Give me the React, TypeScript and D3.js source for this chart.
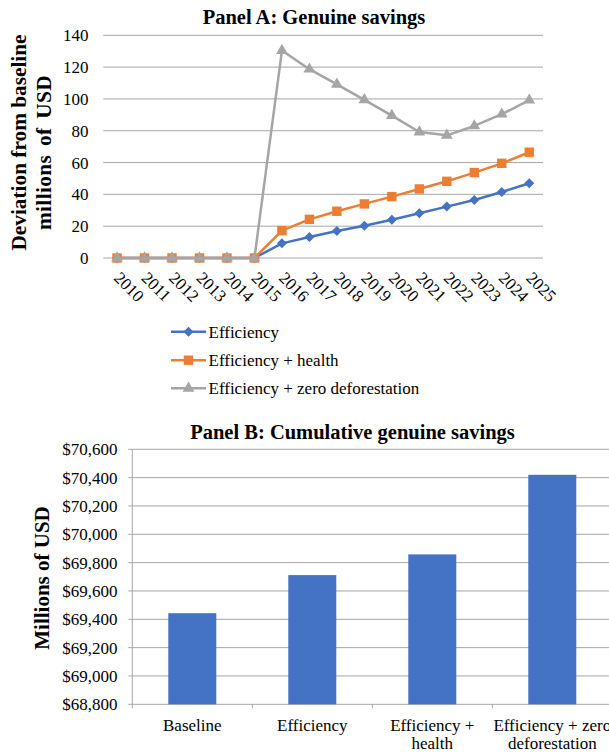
import React from "react";
import * as d3 from "d3";

const years = ["2010","2011","2012","2013","2014","2015","2016","2017","2018","2019","2020","2021","2022","2023","2024","2025"];
const efficiency = [0,0,0,0,0,0,9.2,13.2,17,20.3,24.1,28.1,32.3,36.5,41.5,47];
const effHealth = [0,0,0,0,0,0,17.2,24.3,29.4,34,38.6,43.4,48.2,53.7,59.5,66.5];
const effZeroDef = [0,0,0,0,0,0,130.4,118.7,109.2,99.4,89.5,79.2,77.1,83,90.4,99.2];
const seriesNames = ["Efficiency","Efficiency + health","Efficiency + zero deforestation"];
const yTicksA = [0,20,40,60,80,100,120,140];

const scenarios = ["Baseline","Efficiency","Efficiency + health","Efficiency + zero deforestation"];
const scenarioLabelLines = [["Baseline"],["Efficiency"],["Efficiency +","health"],["Efficiency + zero","deforestation"]];
const cumulative = [69443, 69712, 69858, 70420];
const yTicksB = [68800,69000,69200,69400,69600,69800,70000,70200,70400,70600];

const FONT = "'Times New Roman', 'Liberation Serif', Tinos, 'DejaVu Serif', serif";
const GRID = "#a6a6a6";
const COLORS = ["#4472C4", "#ED7D31", "#A5A5A5"];
const FS = 17;

function Marker({ kind, x, y, color }: { kind: number; x: number; y: number; color: string }) {
  if (kind === 0) {
    const s = 5;
    return <path d={`M${x},${y - s}L${x + s},${y}L${x},${y + s}L${x - s},${y}Z`} fill={color} />;
  }
  if (kind === 1) {
    const s = 4.7;
    return <rect x={x - s} y={y - s} width={2 * s} height={2 * s} fill={color} />;
  }
  const sym = d3.symbol().type(d3.symbolTriangle).size(60)();
  return <path d={sym as string} transform={`translate(${x},${y})`} fill={color} />;
}

export default function App() {
  const xA = d3.scaleBand<string>().domain(years).range([103.3, 543]);
  const yA = d3.scaleLinear().domain([0, 140]).range([258, 35.3]);
  const cx = (yr: string) => (xA(yr) as number) + xA.bandwidth() / 2;
  const allSeries = [efficiency, effHealth, effZeroDef];
  const line = d3.line<number>().x((_, i) => cx(years[i])).y((d) => yA(d));

  const xB = d3.scaleBand<string>().domain(scenarios).range([132.3, 612.3]);
  const yB = d3.scaleLinear().domain([68800, 70600]).range([704.3, 449.3]);
  const barW = xB.bandwidth() * 0.4;
  const fmt = d3.format(",");
  const ts = { fontFamily: FONT };

  return (
    <svg width={609} height={753} style={{ position: "absolute", left: 0, top: 0, background: "#fff", fontFamily: FONT }}>
      <rect width={609} height={753} fill="#fff" />
      <text style={ts} x={314} y={24} textAnchor="middle" fontWeight="bold" fontSize={20.5}>Panel A: Genuine savings</text>
      {yTicksA.map((t) => (
        <g key={t}>
          <line x1={103.3} x2={543} y1={yA(t)} y2={yA(t)} stroke={GRID} strokeWidth={1} />
          <text style={ts} x={88.5} y={yA(t)} dy="0.35em" textAnchor="end" fontSize={FS}>{t}</text>
        </g>
      ))}
      <text style={ts} transform={`translate(25.5,142.5) rotate(-90)`} textAnchor="middle" fontWeight="bold" fontSize={21.3}>Deviation from baseline</text>
      <text style={ts} transform={`translate(50.5,152.5) rotate(-90)`} textAnchor="middle" fontWeight="bold" fontSize={21.3} letterSpacing={0.4} wordSpacing={3}>millions of USD</text>
      {years.map((yr) => (
        <text style={ts} key={yr} transform={`translate(${cx(yr) - 4},279) rotate(45)`} fontSize={FS}>{yr}</text>
      ))}
      {allSeries.map((s, k) => (
        <g key={k}>
          <path d={line(s) as string} fill="none" stroke={COLORS[k]} strokeWidth={2.5} strokeLinejoin="round" />
          {s.map((v, i) => (
            <Marker key={i} kind={k} x={cx(years[i])} y={yA(v)} color={COLORS[k]} />
          ))}
        </g>
      ))}
      {seriesNames.map((n, k) => {
        const ly = [331.7, 360.2, 388.3][k];
        return (
          <g key={n}>
            <line x1={171} x2={206} y1={ly} y2={ly} stroke={COLORS[k]} strokeWidth={2.5} />
            <Marker kind={k} x={188.5} y={ly} color={COLORS[k]} />
            <text style={ts} x={208.5} y={ly} dy="0.35em" fontSize={FS}>{n}</text>
          </g>
        );
      })}

      <text style={ts} x={352.5} y={438.5} textAnchor="middle" fontWeight="bold" fontSize={20.5}>Panel B: Cumulative genuine savings</text>
      {yTicksB.map((t) => (
        <g key={t}>
          <line x1={132.3} x2={612} y1={yB(t)} y2={yB(t)} stroke={GRID} strokeWidth={1} />
          <line x1={128.3} x2={132.3} y1={yB(t)} y2={yB(t)} stroke={GRID} strokeWidth={1} />
          <text style={ts} x={117.5} y={yB(t)} dy="0.35em" textAnchor="end" fontSize={FS}>{"$" + fmt(t)}</text>
        </g>
      ))}
      <line x1={132.3} x2={132.3} y1={yB(70600)} y2={yB(68800)} stroke={GRID} strokeWidth={1} />
      {scenarios.map((s) => (
        <line key={s} x1={(xB(s) as number) + xB.bandwidth()} x2={(xB(s) as number) + xB.bandwidth()} y1={yB(68800)} y2={yB(68800) + 4} stroke={GRID} strokeWidth={1} />
      ))}
      <line x1={132.3} x2={132.3} y1={yB(68800)} y2={yB(68800) + 4} stroke={GRID} strokeWidth={1} />
      {scenarios.map((s, i) => {
        const c = (xB(s) as number) + xB.bandwidth() / 2;
        return (
          <rect key={s} x={c - barW / 2} y={yB(cumulative[i])} width={barW} height={yB(68800) - yB(cumulative[i])} fill="#4472C4" />
        );
      })}
      {scenarios.map((s, i) => {
        const c = (xB(s) as number) + xB.bandwidth() / 2;
        return (
          <text style={ts} key={s} x={c} y={730.5} textAnchor="middle" fontSize={FS}>
            {scenarioLabelLines[i].map((l, j) => (
              <tspan key={j} x={c} dy={j === 0 ? 0 : 18.5}>{l}</tspan>
            ))}
          </text>
        );
      })}
      <text style={ts} transform={`translate(49,578) rotate(-90)`} textAnchor="middle" fontWeight="bold" fontSize={21}>Millions of USD</text>
    </svg>
  );
}
